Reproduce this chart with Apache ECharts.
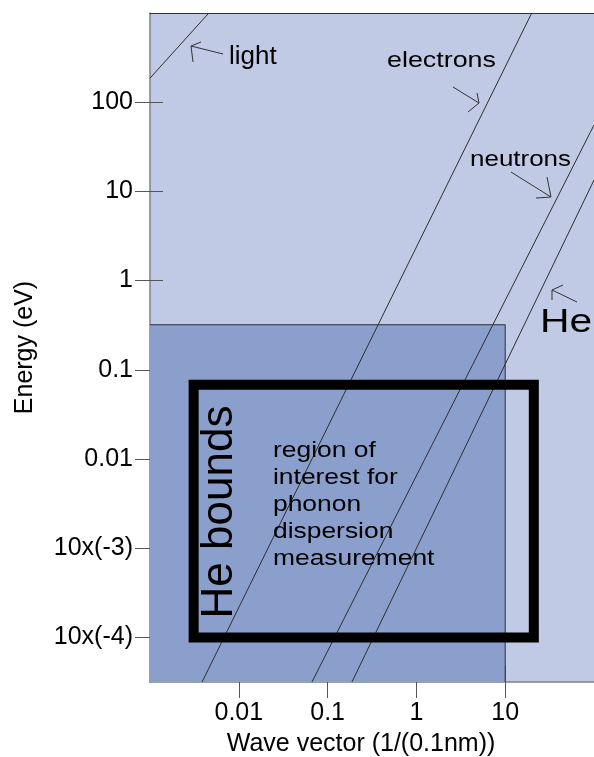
<!DOCTYPE html>
<html>
<head>
<meta charset="utf-8">
<script src="https://cdn.jsdelivr.net/npm/echarts@6/dist/echarts.min.js"></script>
<style>
  html, body { margin: 0; padding: 0; background: #fff; }
  #chart { width: 594px; height: 757px; }
</style>
</head>
<body>
<div id="chart"></div>
<script>
// axis range (log-log)
const xMin = 0.001
const xMax = 100
const yMin = 3.1623e-5
const yMax = 1000

const xTickValues = [0.01, 0.1, 1, 10]
const xTickLabels = ['0.01', '0.1', '1', '10']
const yTickValues = [1e-4, 1e-3, 0.01, 0.1, 1, 10, 100]
const yTickLabels = ['10x(-4)', '10x(-3)', '0.01', '0.1', '1', '10', '100']

// dispersion lines [k, E]
const lightLine = [[0.001, 186], [0.0046, 1000]]
const electronLine = [[0.00386, 3.1623e-5], [19.9, 1000]]
const neutronLine = [[0.0667, 3.1623e-5], [100, 55.5]]
const heliumLine = [[0.188, 3.1623e-5], [100, 13.4]]

// regions
const darkRegion = [[0.001, 3.1623e-5], [10, 0.32]]
const darkRegionEdge = [[0.001, 0.32], [10, 0.32], [10, 3.1623e-5]]
const heBounds = [[0.0031, 1e-4], [0.0031, 0.068], [21, 0.068], [21, 1e-4], [0.0031, 1e-4]]

const FONT = 'Liberation Sans, Arial, sans-serif'

function pickLabel (values, labels) {
  return function (v) {
    let i = values.findIndex(t => Math.abs(Math.log10(t) - Math.log10(v)) < 1e-6)
    return i >= 0 ? labels[i] : ''
  }
}

function thinLine (data, color) {
  return {
    type: 'line',
    data: data,
    symbol: 'none',
    silent: true,
    lineStyle: { color: color || '#2e2e2e', width: 1 },
    z: 3
  }
}

function arrow (shaft, barbs) {
  return [
    { type: 'polyline', shape: { points: shaft }, style: { stroke: '#333', lineWidth: 1, fill: null }, z: 10 },
    { type: 'polyline', shape: { points: barbs }, style: { stroke: '#333', lineWidth: 1, fill: null }, z: 10 }
  ]
}

function label (text, x, y, size, sx, extra) {
  return Object.assign({
    type: 'text',
    x: x,
    y: y,
    scaleX: sx || 1,
    z: 10,
    style: {
      text: text,
      font: size + 'px ' + FONT,
      fill: '#000',
      textAlign: 'left',
      textVerticalAlign: 'top'
    }
  }, extra || {})
}

let chart = echarts.init(document.getElementById('chart'))

let option = {
  animation: false,
  grid: {
    left: 150,
    top: 13,
    width: 444,
    height: 669,
    outerBoundsMode: 'none',
    containLabel: false,
    show: true,
    backgroundColor: '#c1cae4',
    borderWidth: 0
  },
  xAxis: [
    {
      type: 'log',
      logBase: 10,
      min: xMin,
      max: xMax,
      position: 'bottom',
      axisLine: { lineStyle: { color: '#7d828e', width: 1.5 } },
      axisTick: { customValues: xTickValues, inside: false, length: 16, lineStyle: { color: '#555' } },
      axisLabel: {
        customValues: xTickValues,
        formatter: pickLabel(xTickValues, xTickLabels),
        margin: 19,
        fontSize: 25,
        color: '#000',
        fontFamily: FONT
      },
      splitLine: { show: false },
      minorTick: { show: false },
      name: 'Wave vector (1/(0.1nm))',
      nameLocation: 'middle',
      nameGap: 50,
      nameTextStyle: { fontSize: 25, color: '#000', fontFamily: FONT, padding: [0, 22, 0, 0] }
    },
    {
      type: 'log',
      logBase: 10,
      min: xMin,
      max: xMax,
      position: 'bottom',
      axisLine: { show: false },
      axisTick: { customValues: xTickValues, inside: true, length: 16, lineStyle: { color: '#555' } },
      axisLabel: { show: false },
      splitLine: { show: false }
    },
    {
      type: 'log',
      logBase: 10,
      min: xMin,
      max: xMax,
      position: 'top',
      axisLine: { lineStyle: { color: '#333', width: 1 } },
      axisTick: { show: false },
      axisLabel: { show: false },
      splitLine: { show: false }
    }
  ],
  yAxis: [
    {
      type: 'log',
      logBase: 10,
      min: yMin,
      max: yMax,
      position: 'left',
      axisLine: { lineStyle: { color: '#7d828e', width: 1.5 } },
      axisTick: { customValues: yTickValues, inside: false, length: 15, lineStyle: { color: '#555' } },
      axisLabel: {
        customValues: yTickValues,
        formatter: pickLabel(yTickValues, yTickLabels),
        margin: 17,
        fontSize: 25,
        color: '#000',
        fontFamily: FONT
      },
      splitLine: { show: false },
      minorTick: { show: false },
      name: 'Energy (eV)',
      nameLocation: 'middle',
      nameGap: 112,
      nameTextStyle: { fontSize: 25, color: '#000', fontFamily: FONT }
    },
    {
      type: 'log',
      logBase: 10,
      min: yMin,
      max: yMax,
      position: 'left',
      axisLine: { show: false },
      axisTick: { customValues: yTickValues, inside: true, length: 13, lineStyle: { color: '#555' } },
      axisLabel: { show: false },
      splitLine: { show: false }
    }
  ],
  series: [
    Object.assign(thinLine(darkRegionEdge, '#2b3042'), {
      z: 2,
      markArea: {
        silent: true,
        itemStyle: { color: '#8a9fcb', opacity: 1, borderWidth: 0 },
        data: [[{ coord: darkRegion[0] }, { coord: darkRegion[1] }]]
      }
    }),
    thinLine(lightLine),
    thinLine(electronLine),
    thinLine(neutronLine),
    thinLine(heliumLine),
    {
      type: 'line',
      data: heBounds,
      symbol: 'none',
      silent: true,
      lineStyle: { color: '#000', width: 10, join: 'miter', cap: 'square' },
      z: 4
    }
  ],
  graphic: [
    label('light', 229, 44, 26, 1),
    label('electrons', 387, 50, 22, 1.22),
    label('neutrons', 470, 149, 22, 1.18),
    label('He', 540, 306, 34, 1.2),
    label('region of\ninterest for\nphonon\ndispersion\nmeasurement', 273, 437, 22, 1.2, {
      style: {
        text: 'region of\ninterest for\nphonon\ndispersion\nmeasurement',
        font: '22px ' + FONT,
        fill: '#000',
        textAlign: 'left',
        textVerticalAlign: 'top',
        lineHeight: 27
      }
    }),
    {
      type: 'text',
      x: 220,
      y: 512,
      rotation: Math.PI / 2,
      z: 10,
      style: {
        text: 'He bounds',
        font: '44px ' + FONT,
        fill: '#000',
        textAlign: 'center',
        textVerticalAlign: 'middle'
      }
    }
  ]
    .concat(arrow([[223, 54], [191, 46]], [[201, 42], [191, 46], [193, 62]]))
    .concat(arrow([[453, 87], [479, 103]], [[477, 93], [479, 103], [468, 112]]))
    .concat(arrow([[511, 172], [551, 197]], [[547, 177], [551, 197], [536, 198]]))
    .concat(arrow([[577, 302], [552, 290]], [[563, 285], [552, 290], [552, 300]]))
}

chart.setOption(option)
</script>
</body>
</html>
